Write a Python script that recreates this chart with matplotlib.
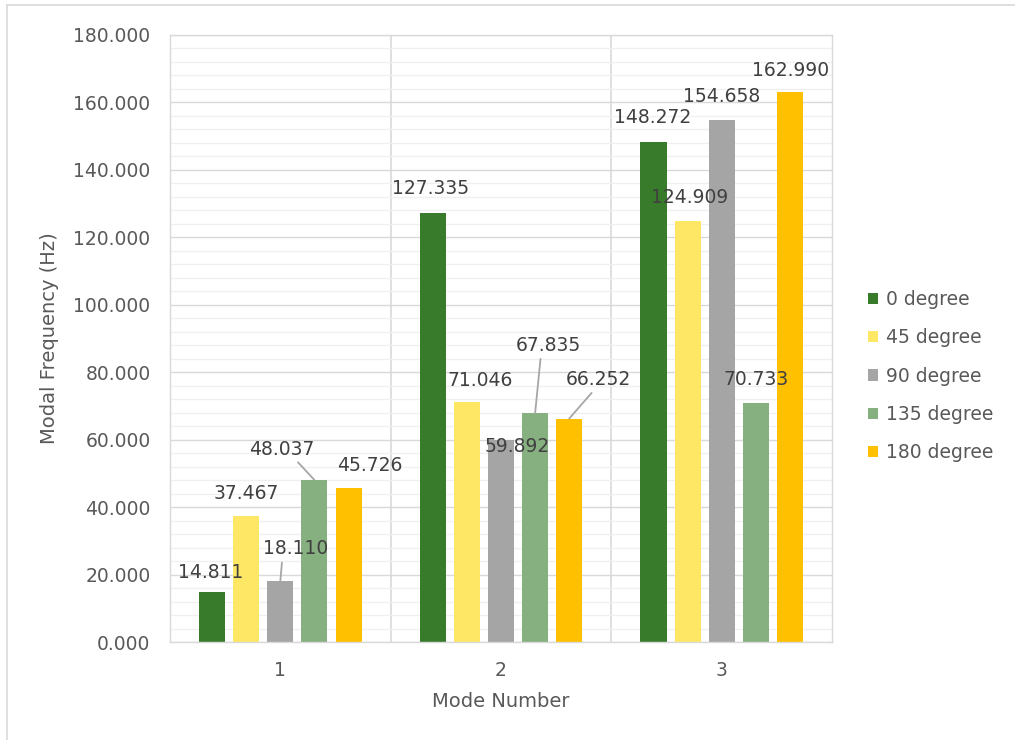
import matplotlib
matplotlib.use("Agg")
import matplotlib.pyplot as plt
from matplotlib.lines import Line2D
import numpy as np

modes = ["1", "2", "3"]
series_names = ["0 degree", "45 degree", "90 degree", "135 degree", "180 degree"]
freq_0 = [14.811, 127.335, 148.272]
freq_45 = [37.467, 71.046, 124.909]
freq_90 = [18.110, 59.892, 154.658]
freq_135 = [48.037, 67.835, 70.733]
freq_180 = [45.726, 66.252, 162.990]
series_values = [freq_0, freq_45, freq_90, freq_135, freq_180]
colors = ["#387C2B", "#FFE766", "#A5A5A5", "#86B07F", "#FFC000"]

# label placement: (dx, dy) in pixels from bar top centre, and leader anchor on label (None = no leader)
label_offsets = [
    [(-1, 20, None), (-2, 24, None), (-1, 24, None)],
    [(0, 22, None), (13, 22, None), (2, 23, None)],
    [(15, 32, 0.30), (16, -6, None), (0, 24, None)],
    [(-33, 31, 0.70), (13, 68, 0.39), (0, 24, None)],
    [(21, 22, None), (29, 39, 0.45), (1, 22, None)],
]

plt.rcParams["font.family"] = ["DejaVu Sans"]
fs = 13.5
title_fs = 14
tick_color = "#595959"
label_color = "#404040"

fig = plt.figure(figsize=(10.15, 7.40), dpi=100)
ax = fig.add_axes([170 / 1015, (740 - 642) / 740, (832 - 170) / 1015, (642 - 35) / 740])

# outer chart border (top and left visible)
fig.add_artist(Line2D([7 / 1015, 7 / 1015], [0, 1 - 5 / 740], transform=fig.transFigure,
                      color="#D9D9D9", lw=1.2))
fig.add_artist(Line2D([7 / 1015, 1], [1 - 5 / 740, 1 - 5 / 740], transform=fig.transFigure,
                      color="#D9D9D9", lw=1.2))

x = np.arange(1, len(modes) + 1)
step = 34 / 220
width = 26 / 220

ax.set_xlim(0.5, 3.5)
ax.set_ylim(0, 180)
ax.set_yticks(np.arange(0, 181, 20))
ax.set_yticks(np.arange(0, 181, 4), minor=True)
ax.yaxis.set_major_formatter(matplotlib.ticker.FormatStrFormatter("%.3f"))
ax.set_xticks(x)
ax.set_xticklabels(modes)
ax.grid(axis="y", which="minor", color="#F0F0F0", lw=1.0, zorder=0)
ax.grid(axis="y", which="major", color="#D9D9D9", lw=1.0, zorder=0.5)
for b in [1.5, 2.5]:
    ax.axvline(b, color="#D9D9D9", lw=1.2, zorder=0.5)
for s in ax.spines.values():
    s.set_color("#D9D9D9")
    s.set_linewidth(1.0)
ax.tick_params(axis="both", which="both", length=0, labelsize=fs, labelcolor=tick_color)
ax.tick_params(axis="y", pad=14)
ax.tick_params(axis="x", pad=14)

handles = []
for i, (name, vals, col) in enumerate(zip(series_names, series_values, colors)):
    pos = x + (i - 2) * step
    bars = ax.bar(pos, vals, width=width, color=col, zorder=2, label=name)
    handles.append(bars)
    for j, (px, v) in enumerate(zip(pos, vals)):
        dx, dy, rel = label_offsets[i][j]
        kw = {}
        if rel is not None:
            kw["arrowprops"] = dict(arrowstyle="-", color="#A6A6A6", lw=1.3,
                                    shrinkA=1, shrinkB=0, relpos=(rel, 0.0))
        ax.annotate(f"{v:.3f}", xy=(px, v), xytext=(dx, dy), textcoords="offset pixels",
                    ha="center", va="center", fontsize=fs, color=label_color, zorder=3, **kw)

ax.set_xlabel("Mode Number", fontsize=title_fs, color=tick_color, labelpad=8)
ax.set_ylabel("Modal Frequency (Hz)", fontsize=title_fs, color=tick_color, labelpad=10)

leg = fig.legend(handles=handles, labels=series_names, loc="center left",
                 bbox_to_anchor=(868 / 1015, 1 - 376 / 740), frameon=False,
                 fontsize=fs, labelcolor=tick_color, handlelength=0.55, handleheight=0.55,
                 handletextpad=0.4, labelspacing=1.03, borderpad=0, borderaxespad=0)

fig.savefig("out.png", dpi=100, facecolor="white")
